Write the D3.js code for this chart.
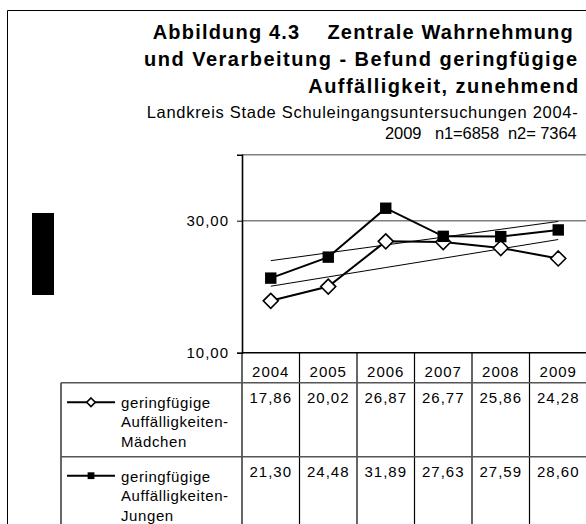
<!DOCTYPE html>
<html>
<head>
<meta charset="utf-8">
<script src="https://cdn.jsdelivr.net/npm/d3@7"></script>
<style>
  body { margin: 0; background: #fff; }
  svg text { font-family: "Liberation Sans", Arial, sans-serif; fill: #000; white-space: pre; }
</style>
</head>
<body>
<div id="chart"></div>
<script>
// data
const years = ["2004", "2005", "2006", "2007", "2008", "2009"];
const maedchen = [17.86, 20.02, 26.87, 26.77, 25.86, 24.28];
const jungen = [21.3, 24.48, 31.89, 27.63, 27.59, 28.6];
const seriesLabels = [
  ["geringfügige", "Auffälligkeiten-", "Mädchen"],
  ["geringfügige", "Auffälligkeiten-", "Jungen"],
];
const yTicks = [10, 30];
const yDomain = [10, 40];
const titleLines = [
  "Abbildung 4.3    Zentrale Wahrnehmung",
  "und Verarbeitung - Befund geringfügige",
  "Auffälligkeit, zunehmend",
];
const subtitleLines = [
  "Landkreis Stade Schuleingangsuntersuchungen 2004-",
  "2009   n1=6858  n2= 7364",
];

const svgWidth = 586,
  svgHeight = 524;
const plot = { left: 242, right: 587, top: 154.7, bottom: 352.7 };

const de = d3.formatLocale({ decimal: ",", thousands: ".", grouping: [3], currency: ["", "€"] });
const fmt = de.format(".2f");

const svg = d3
  .select("#chart")
  .append("svg")
  .attr("width", svgWidth)
  .attr("height", svgHeight);

// outer frame
svg.append("path")
  .attr("d", `M7.5,${svgHeight + 2}V10.5H${svgWidth + 2}`)
  .attr("fill", "none")
  .attr("stroke", "#000");

// masked block on the left
svg.append("rect").attr("x", 32).attr("y", 213).attr("width", 22).attr("height", 82).attr("fill", "#000");

// titles
const titlePos = [
  { x: 152.7, y: 38.8, w: 420 },
  { x: 144, y: 65.7, w: 433 },
  { x: 308.3, y: 93.3, w: 270 },
];
svg.selectAll(".title")
  .data(titleLines)
  .enter()
  .append("text")
  .attr("class", "title")
  .attr("x", (d, i) => titlePos[i].x)
  .attr("y", (d, i) => titlePos[i].y)
  .attr("textLength", (d, i) => titlePos[i].w)
  .attr("lengthAdjust", "spacing")
  .attr("font-size", 20)
  .attr("font-weight", "bold")
  .text((d) => d);

const subPos = [
  { x: 146.7, y: 117.5, w: 431 },
  { x: 385, y: 139, w: 191.7 },
];
svg.selectAll(".sub")
  .data(subtitleLines)
  .enter()
  .append("text")
  .attr("class", "sub")
  .attr("x", (d, i) => subPos[i].x)
  .attr("y", (d, i) => subPos[i].y)
  .attr("textLength", (d, i) => subPos[i].w)
  .attr("lengthAdjust", "spacing")
  .attr("font-size", 16.5)
  .text((d) => d);

// scales
const x = d3.scaleBand().domain(years).range([plot.left, plot.right]);
const y = d3.scaleLinear().domain(yDomain).range([plot.bottom, plot.top]);
const cx = (d) => x(d) + x.bandwidth() / 2;

// gridline + top border
svg.selectAll(".grid")
  .data(yTicks.filter((t) => t !== yDomain[0]).concat([yDomain[1]]))
  .enter()
  .append("line")
  .attr("x1", plot.left)
  .attr("x2", plot.right)
  .attr("y1", (d) => y(d))
  .attr("y2", (d) => y(d))
  .attr("stroke", "#808080")
  .attr("stroke-width", 1.6);

// y axis
const yAxis = svg.append("g")
  .attr("transform", `translate(${plot.left},0)`)
  .call(d3.axisLeft(y).tickValues(yTicks).tickSize(5).tickPadding(8).tickFormat(fmt));
yAxis.select(".domain").attr("stroke", "#000").attr("stroke-width", 1.6);
yAxis.selectAll("text")
  .attr("font-size", 15)
  .attr("letter-spacing", 1)
  .attr("font-family", "Liberation Sans, Arial, sans-serif")
  .attr("fill", "#000");

// x axis line
svg.append("line")
  .attr("x1", plot.left)
  .attr("x2", plot.right)
  .attr("y1", y(yDomain[0]))
  .attr("y2", y(yDomain[0]))
  .attr("stroke", "#000")
  .attr("stroke-width", 1.6);

// data table
const rowTop = [plot.bottom, 382.7, 456.7, 530.7];
const legendLeft = 61;
svg.selectAll(".col")
  .data(years.concat(["end"]))
  .enter()
  .append("line")
  .attr("x1", (d) => (d === "end" ? plot.right : x(d)))
  .attr("x2", (d) => (d === "end" ? plot.right : x(d)))
  .attr("y1", plot.bottom)
  .attr("y2", svgHeight + 2)
  .attr("stroke", "#000")
  .attr("stroke-width", 1.2);
svg.append("line")
  .attr("x1", legendLeft).attr("x2", legendLeft)
  .attr("y1", rowTop[1]).attr("y2", svgHeight + 2)
  .attr("stroke", "#000").attr("stroke-width", 1.2);
svg.selectAll(".row")
  .data([rowTop[1], rowTop[2]])
  .enter()
  .append("line")
  .attr("x1", legendLeft)
  .attr("x2", plot.right)
  .attr("y1", (d) => d)
  .attr("y2", (d) => d)
  .attr("stroke", "#555")
  .attr("stroke-width", 1.4);

svg.selectAll(".year")
  .data(years)
  .enter()
  .append("text")
  .attr("x", (d) => cx(d))
  .attr("y", 376.7)
  .attr("text-anchor", "middle")
  .attr("font-size", 15)
  .attr("letter-spacing", 1)
  .text((d) => d);

const series = [
  { values: maedchen, marker: "diamond" },
  { values: jungen, marker: "square" },
];

series.forEach((s, si) => {
  svg.append("g")
    .selectAll("text")
    .data(s.values)
    .enter()
    .append("text")
    .attr("x", (d, i) => cx(years[i]))
    .attr("y", rowTop[si + 1] + 20.6)
    .attr("text-anchor", "middle")
    .attr("font-size", 15)
    .attr("letter-spacing", 1)
    .text((d) => fmt(d));
});

// marker drawing
function marker(g, type, size) {
  if (type === "diamond") {
    g.append("path")
      .attr("d", `M0,${-size}L${size},0L0,${size}L${-size},0Z`)
      .attr("fill", "#fff")
      .attr("stroke", "#000")
      .attr("stroke-width", 1.6);
  } else {
    g.append("rect")
      .attr("x", -size)
      .attr("y", -size)
      .attr("width", size * 2)
      .attr("height", size * 2)
      .attr("fill", "#000");
  }
}

// legend in table
series.forEach((s, si) => {
  const ly = si === 0 ? 402.3 : 475.7;
  svg.append("line")
    .attr("x1", 67).attr("x2", 115)
    .attr("y1", ly).attr("y2", ly)
    .attr("stroke", "#000").attr("stroke-width", 2);
  const g = svg.append("g").attr("transform", `translate(91,${ly})`);
  marker(g, s.marker, s.marker === "diamond" ? 4.3 : 3.4);
  svg.append("g")
    .selectAll("text")
    .data(seriesLabels[si])
    .enter()
    .append("text")
    .attr("x", 121)
    .attr("y", (d, i) => rowTop[si + 1] + 25 + i * 19.4)
    .attr("font-size", 15)
    .attr("letter-spacing", 0.6)
    .text((d) => d);
});

// trendlines (least squares)
function trend(vals) {
  const xs = vals.map((d, i) => i);
  const mx = d3.mean(xs),
    my = d3.mean(vals);
  const slope = d3.sum(xs, (xi, i) => (xi - mx) * (vals[i] - my)) / d3.sum(xs, (xi) => (xi - mx) ** 2);
  return vals.map((d, i) => my + slope * (i - mx));
}

const line = d3.line()
  .x((d, i) => cx(years[i]))
  .y((d) => y(d));

series.forEach((s) => {
  svg.append("path")
    .attr("d", line(trend(s.values)))
    .attr("fill", "none")
    .attr("stroke", "#000")
    .attr("stroke-width", 1);
});

series.forEach((s) => {
  svg.append("path")
    .attr("d", line(s.values))
    .attr("fill", "none")
    .attr("stroke", "#000")
    .attr("stroke-width", 2);
});

series.forEach((s) => {
  s.values.forEach((v, i) => {
    const g = svg.append("g").attr("transform", `translate(${cx(years[i])},${y(v)})`);
    marker(g, s.marker, s.marker === "diamond" ? 7.5 : 5.7);
  });
});
</script>
</body>
</html>
